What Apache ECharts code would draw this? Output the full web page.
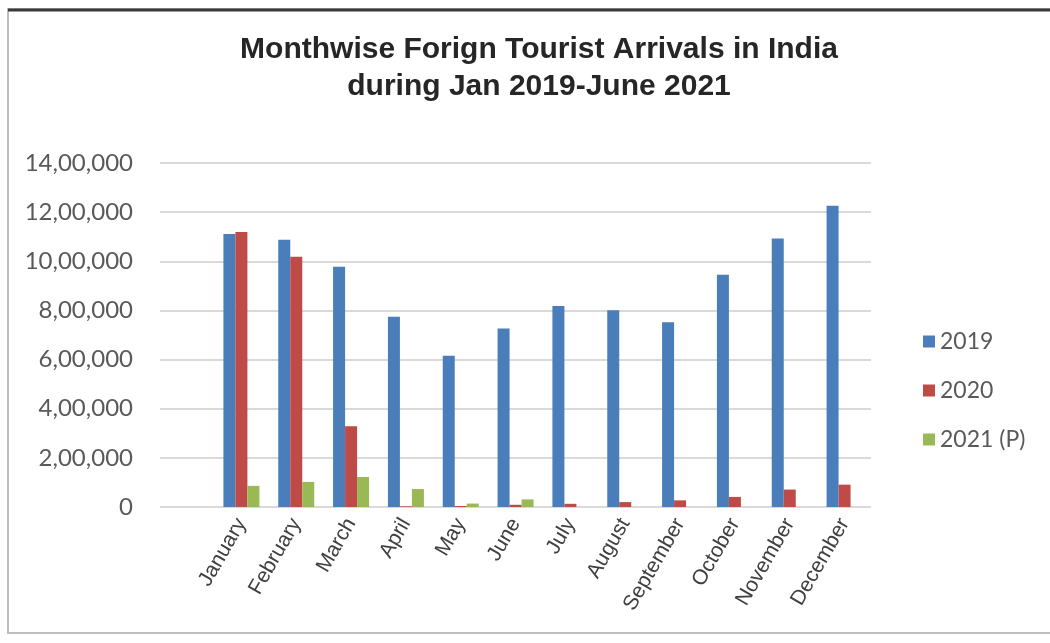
<!DOCTYPE html>
<html>
<head>
<meta charset="utf-8">
<script src="https://cdn.jsdelivr.net/npm/echarts@6/dist/echarts.min.js"></script>
<style>
html,body{margin:0;padding:0;background:#ffffff;}
#chart{width:1050px;height:643px;}
</style>
</head>
<body>
<div id="chart"></div>
<script>
var months = ['January','February','March','April','May','June','July','August','September','October','November','December'];
var arrivals2019 = [1111040, 1087694, 978236, 774651, 615136, 726446, 818125, 800837, 751513, 945017, 1092440, 1226398];
var arrivals2020 = [1119250, 1018440, 328304, 3000, 4000, 9000, 13000, 20000, 27000, 41000, 71000, 91000];
var arrivals2021 = [86000, 102000, 122000, 73000, 14000, 31000];
var yTickLabels = ['0','2,00,000','4,00,000','6,00,000','8,00,000','10,00,000','12,00,000','14,00,000'];
var seriesNames = ['2019','2020','2021 (P)'];
var titleLines = ['Monthwise Forign Tourist Arrivals in India','during Jan 2019-June 2021'];

var chart = echarts.init(document.getElementById('chart'));
var option = {
  animation: false,
  backgroundColor: '#ffffff',
  title: {
    text: titleLines.join('\n'),
    left: 534,
    top: 26,
    textAlign: 'center',
    textStyle: {
      fontFamily: '"Liberation Sans", Arial, sans-serif',
      fontWeight: 'bold',
      fontSize: 30,
      lineHeight: 37,
      color: '#262626'
    }
  },
  legend: {
    orient: 'vertical',
    left: 918,
    top: 325,
    itemWidth: 12,
    itemHeight: 12,
    itemGap: 26,
    icon: 'rect',
    data: seriesNames,
    textStyle: { fontFamily: 'Lato, sans-serif', fontSize: 23, color: '#595959' }
  },
  grid: [
    { left: 214, right: 178, top: 163, bottom: 136 },
    { left: 160, right: 179, top: 163, bottom: 136 }
  ],
  xAxis: [
    {
      type: 'category', gridIndex: 0, data: months,
      axisLine: { show: false }, axisTick: { show: false },
      axisLabel: {
        rotate: 60, interval: 0, margin: 13,
        fontFamily: '"Liberation Sans", Arial, sans-serif',
        fontSize: 21, color: '#404040'
      }
    },
    { type: 'value', gridIndex: 1, show: false, min: 0, max: 1 }
  ],
  yAxis: [
    { type: 'value', gridIndex: 0, min: 0, max: 1400000, interval: 200000, show: false, splitLine: { show: false } },
    {
      type: 'value', gridIndex: 1, min: 0, max: 1400000, interval: 200000,
      axisLine: { show: false }, axisTick: { show: false },
      splitLine: { show: true, lineStyle: { color: '#d9d9d9', width: 2 } },
      axisLabel: {
        margin: 27,
        fontFamily: 'Lato, sans-serif', fontSize: 24, color: '#595959',
        formatter: function (v) { return yTickLabels[Math.round(v / 200000)]; }
      }
    }
  ],
  graphic: [
    { type: 'rect', shape: { x: 8, y: 9, width: 1045, height: 624 }, style: { fill: 'none', stroke: '#bdbdbd', lineWidth: 2 }, z: 100 },
    { type: 'line', shape: { x1: 8, y1: 10, x2: 1050, y2: 10 }, style: { stroke: '#3a3a3a', lineWidth: 3 }, z: 101 }
  ],
  series: [
    { name: seriesNames[0], type: 'bar', xAxisIndex: 0, yAxisIndex: 0, data: arrivals2019, barWidth: 12, barGap: '0%', itemStyle: { color: '#4A7EBB' } },
    { name: seriesNames[1], type: 'bar', xAxisIndex: 0, yAxisIndex: 0, data: arrivals2020, barWidth: 12, barGap: '0%', itemStyle: { color: '#BE4B48' } },
    { name: seriesNames[2], type: 'bar', xAxisIndex: 0, yAxisIndex: 0, data: arrivals2021, barWidth: 12, barGap: '0%', itemStyle: { color: '#98B954' } }
  ]
};
chart.setOption(option);
</script>
</body>
</html>
